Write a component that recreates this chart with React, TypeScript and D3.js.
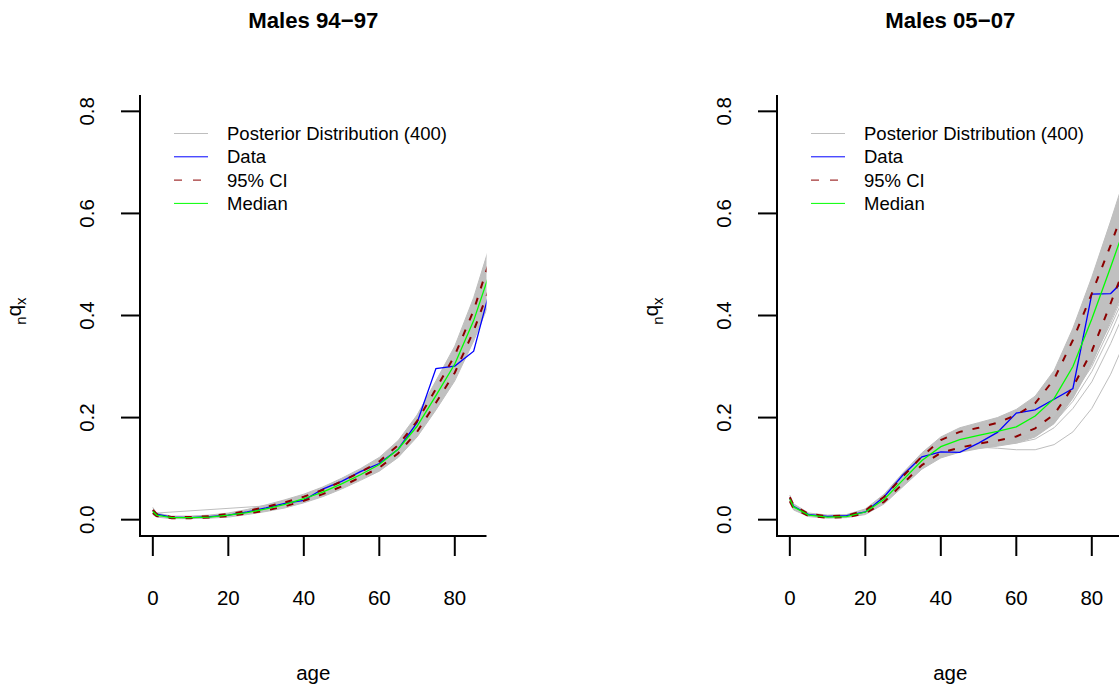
import React from 'react';
import * as d3 from 'd3';

// ---- data ----
const ages = [0, 1, 5, 10, 15, 20, 25, 30, 35, 40, 45, 50, 55, 60, 65, 70, 75, 80, 85, 90];
const xTicks = [0, 20, 40, 60, 80];
const yTicks = [0, 0.2, 0.4, 0.6, 0.8];
const yTickLabels = ['0.0', '0.2', '0.4', '0.6', '0.8'];
const legendLabels = ['Posterior Distribution (400)', 'Data', '95% CI', 'Median'];
const panelTitles = ['Males 94\u221297', 'Males 05\u221207'];

// Males 94-97
const data9497 = [0.018, 0.011, 0.005, 0.004, 0.006, 0.009, 0.015, 0.023, 0.032, 0.038, 0.060, 0.075, 0.094, 0.110, 0.138, 0.190, 0.296, 0.301, 0.330, 0.470];
const median9497 = [0.016, 0.009, 0.004, 0.004, 0.005, 0.009, 0.014, 0.021, 0.030, 0.041, 0.054, 0.070, 0.088, 0.108, 0.138, 0.183, 0.243, 0.305, 0.390, 0.500];
const ciUpper9497 = [0.019, 0.011, 0.005, 0.005, 0.007, 0.011, 0.017, 0.025, 0.034, 0.045, 0.058, 0.075, 0.093, 0.114, 0.146, 0.193, 0.256, 0.322, 0.410, 0.525];
const ciLower9497 = [0.013, 0.007, 0.003, 0.003, 0.004, 0.007, 0.012, 0.018, 0.026, 0.037, 0.050, 0.065, 0.083, 0.102, 0.130, 0.172, 0.229, 0.288, 0.370, 0.470];
const postUpper9497 = [0.024, 0.013, 0.007, 0.007, 0.009, 0.013, 0.020, 0.029, 0.039, 0.050, 0.064, 0.081, 0.100, 0.122, 0.155, 0.205, 0.272, 0.340, 0.435, 0.555];
const postLower9497 = [0.010, 0.005, 0.002, 0.002, 0.003, 0.005, 0.010, 0.016, 0.023, 0.033, 0.045, 0.060, 0.077, 0.095, 0.122, 0.162, 0.215, 0.272, 0.350, 0.440];
const outlierAges9497 = [0, 1, 30, 40];
const outliers9497 = [[0.017, 0.013, 0.027, 0.040]];

// Males 05-07
const data0507 = [0.042, 0.026, 0.010, 0.0065, 0.008, 0.015, 0.045, 0.088, 0.123, 0.133, 0.132, 0.150, 0.171, 0.209, 0.215, 0.236, 0.257, 0.442, 0.443, 0.480];
const median0507 = [0.040, 0.025, 0.009, 0.005, 0.006, 0.015, 0.040, 0.078, 0.116, 0.143, 0.157, 0.165, 0.173, 0.182, 0.203, 0.237, 0.300, 0.393, 0.495, 0.600];
const ciUpper0507 = [0.044, 0.028, 0.011, 0.007, 0.008, 0.018, 0.045, 0.085, 0.124, 0.156, 0.172, 0.180, 0.190, 0.205, 0.228, 0.275, 0.352, 0.443, 0.538, 0.640];
const ciLower0507 = [0.036, 0.022, 0.007, 0.004, 0.005, 0.012, 0.035, 0.071, 0.107, 0.131, 0.141, 0.149, 0.155, 0.163, 0.179, 0.206, 0.260, 0.330, 0.424, 0.520];
const postUpper0507 = [0.048, 0.031, 0.013, 0.009, 0.010, 0.021, 0.050, 0.092, 0.131, 0.162, 0.180, 0.190, 0.200, 0.216, 0.242, 0.292, 0.375, 0.475, 0.585, 0.700];
const postLower0507 = [0.033, 0.019, 0.006, 0.003, 0.004, 0.010, 0.031, 0.065, 0.099, 0.121, 0.132, 0.139, 0.144, 0.150, 0.162, 0.188, 0.238, 0.305, 0.390, 0.475];
const outlierAges0507 = [40, 45, 50, 55, 60, 65, 70, 75, 80, 85, 90];
const outliers0507 = [
  [0.130, 0.140, 0.142, 0.140, 0.137, 0.137, 0.147, 0.172, 0.218, 0.285, 0.370],
  [0.125, 0.135, 0.143, 0.147, 0.150, 0.158, 0.180, 0.218, 0.270, 0.345, 0.430],
  [0.125, 0.135, 0.142, 0.148, 0.155, 0.165, 0.190, 0.232, 0.290, 0.365, 0.450],
  [0.125, 0.135, 0.141, 0.148, 0.158, 0.170, 0.196, 0.245, 0.300, 0.378, 0.460],
  [0.125, 0.135, 0.141, 0.147, 0.156, 0.172, 0.200, 0.250, 0.310, 0.385, 0.470],
];

const panels = [
  { title: panelTitles[0], data: data9497, median: median9497, ciU: ciUpper9497, ciL: ciLower9497, pU: postUpper9497, pL: postLower9497, oAges: outlierAges9497, outliers: outliers9497 },
  { title: panelTitles[1], data: data0507, median: median0507, ciU: ciUpper0507, ciL: ciLower0507, pU: postUpper0507, pL: postLower0507, oAges: outlierAges0507, outliers: outliers0507 },
];

// ---- layout ----
const W = 1119;
const H = 687;
const plotTop = 95;
const plotBottom = 536;
const plotW = 346.5;
const panelLefts = [140, 777];
const FONT = 'Liberation Sans, Arial, Helvetica, sans-serif';
const FS = 18.5;
const AXFS = 20.5;
const GREY = '#BEBEBE';

function Panel({ idx }: { idx: number }) {
  const p = panels[idx];
  const left = panelLefts[idx];
  const right = left + plotW;
  const cx = left + plotW / 2;
  const x = d3.scaleLinear().domain([-3.4, 88.4]).range([left, right]);
  const y = d3.scaleLinear().domain([-0.032, 0.832]).range([plotBottom, plotTop]);
  const line = (xs: number[], vs: number[]) =>
    d3.line<number>().x((_, i) => x(xs[i])).y((v) => y(v))(vs) || '';
  const area = d3
    .area<number>()
    .x((_, i) => x(ages[i]))
    .y0((_, i) => y(p.pL[i]))
    .y1((v) => y(v))(p.pU) || '';
  const clipId = `clip${idx}`;
  return (
    <g>
      <defs>
        <clipPath id={clipId}>
          <rect x={left} y={plotTop} width={plotW} height={plotBottom - plotTop} />
        </clipPath>
      </defs>
      <g clipPath={`url(#${clipId})`}>
        <path d={area} fill="#C0C0C0" stroke="none" />
        <path d={line(ages, p.pU)} fill="none" stroke={GREY} strokeWidth={1} />
        <path d={line(ages, p.pL)} fill="none" stroke={GREY} strokeWidth={1} />
        {p.outliers.map((o, k) => (
          <path key={k} d={line(p.oAges, o)} fill="none" stroke={GREY} strokeWidth={1} />
        ))}
        <path d={line(ages, p.data)} fill="none" stroke="#0000FF" strokeWidth={1.3} />
        <path d={line(ages, p.ciU)} fill="none" stroke="#8B0000" strokeWidth={2} strokeDasharray="7 10" />
        <path d={line(ages, p.ciL)} fill="none" stroke="#8B0000" strokeWidth={2} strokeDasharray="7 10" />
        <path d={line(ages, p.median)} fill="none" stroke="#00FF00" strokeWidth={1.3} />
      </g>
      {/* box (L shape) */}
      <path d={`M${left},${plotTop}V${plotBottom}H${right}`} fill="none" stroke="#000" strokeWidth={2} />
      {/* y axis */}
      {yTicks.map((t, i) => (
        <g key={'y' + i}>
          <line x1={left - 19} x2={left} y1={y(t)} y2={y(t)} stroke="#000" strokeWidth={2} />
          <text
            transform={`translate(${left - 46},${y(t)}) rotate(-90)`}
            textAnchor="middle"
            fontSize={AXFS}
            fontFamily={FONT}
          >
            {yTickLabels[i]}
          </text>
        </g>
      ))}
      {/* x axis */}
      {xTicks.map((t, i) => (
        <g key={'x' + i}>
          <line x1={x(t)} x2={x(t)} y1={plotBottom} y2={plotBottom + 20} stroke="#000" strokeWidth={2} />
          <text x={x(t)} y={605} textAnchor="middle" fontSize={AXFS} fontFamily={FONT}>
            {String(t)}
          </text>
        </g>
      ))}
      {/* title */}
      <text x={cx} y={28} textAnchor="middle" fontSize={22.2} fontWeight="bold" fontFamily={FONT}>
        {p.title}
      </text>
      {/* x label */}
      <text x={cx} y={680} textAnchor="middle" fontSize={AXFS} fontFamily={FONT}>
        age
      </text>
      {/* y label */}
      <text transform={`translate(${left - 119},311) rotate(-90)`} textAnchor="middle" fontFamily={FONT} fontSize={AXFS}>
        <tspan fontSize={15} dy={5}>n</tspan>
        <tspan dy={-5}>q</tspan>
        <tspan fontSize={15} dy={5}>x</tspan>
      </text>
      {/* legend */}
      {legendLabels.map((lab, i) => {
        const ly = 133.5 + i * 23.3;
        const colors = [GREY, '#0000FF', '#8B0000', '#00FF00'];
        return (
          <g key={'l' + i}>
            <line
              x1={left + 34}
              x2={left + 68}
              y1={ly}
              y2={ly}
              stroke={colors[i]}
              strokeWidth={1}
              strokeDasharray={i === 2 ? '8 11' : undefined}
            />
            <text x={left + 87} y={ly + 6.5} fontSize={FS} fontFamily={FONT}>
              {lab}
            </text>
          </g>
        );
      })}
    </g>
  );
}

export default function App() {
  return (
    <div style={{ position: 'absolute', left: 0, top: 0 }}>
      <svg width={W} height={H} style={{ display: 'block', background: '#fff' }}>
        <rect x={0} y={0} width={W} height={H} fill="#fff" />
        <Panel idx={0} />
        <Panel idx={1} />
      </svg>
    </div>
  );
}
